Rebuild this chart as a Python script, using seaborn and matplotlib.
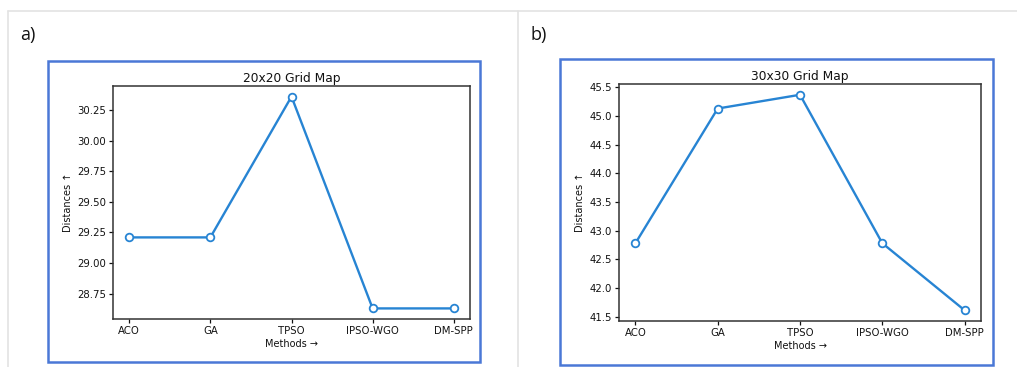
import pandas as pd
import matplotlib.pyplot as plt
import seaborn as sns
from matplotlib.patches import Rectangle
from matplotlib.lines import Line2D

methods = ['ACO', 'GA', 'TPSO', 'IPSO-WGO', 'DM-SPP']
dist_20 = [29.21, 29.21, 30.36, 28.63, 28.63]
dist_30 = [42.78, 45.13, 45.37, 42.78, 41.61]
titles = ['20x20 Grid Map', '30x30 Grid Map']
panel_tags = ['a)', 'b)']

sns.set_style("ticks")
plt.rcParams['font.family'] = ['DejaVu Sans']
plt.rcParams['text.color'] = '#111111'
plt.rcParams['axes.labelcolor'] = '#111111'

fig = plt.figure(figsize=(10.17, 3.67), dpi=100)

# page frame lines (light gray)
fig.add_artist(Line2D([8 / 1017, 1], [1 - 10.5 / 367] * 2, color='#e3e3e3', lw=1.2))
fig.add_artist(Line2D([8 / 1017] * 2, [0, 1 - 10.5 / 367], color='#e3e3e3', lw=1.2))
fig.add_artist(Line2D([518 / 1017] * 2, [0, 1 - 10.5 / 367], color='#e3e3e3', lw=1.2))

# blue boxes around each plot
boxes = [(48, 61, 480, 362), (560, 59, 993, 365)]
for x0, y0, x1, y1 in boxes:
    fig.add_artist(Rectangle((x0 / 1017, 1 - y1 / 367), (x1 - x0) / 1017, (y1 - y0) / 367,
                             fill=False, edgecolor='#4a78d6', lw=1.8))

axes_pos = [
    [113 / 1017, 1 - 319 / 367, 357 / 1017, 233 / 367],
    [619 / 1017, 1 - 321 / 367, 362 / 1017, 237 / 367],
]
tag_pos = [(20 / 1017, 1 - 35 / 367), (531 / 1017, 1 - 35 / 367)]

for i, vals in enumerate([dist_20, dist_30]):
    df = pd.DataFrame({'Method': methods, 'Distance': vals})
    ax = fig.add_axes(axes_pos[i])
    sns.lineplot(data=df, x='Method', y='Distance', ax=ax, sort=False,
                 color='#2784d3', lw=1.7, marker='o', markersize=5.5,
                 markerfacecolor='white', markeredgecolor='#2784d3', markeredgewidth=1.3)
    for s in ax.spines.values():
        s.set_color('#333333')
        s.set_linewidth(1.1)
    ax.tick_params(labelsize=7.3, length=3, width=0.9, colors='#111111', pad=2)
    ax.set_title(titles[i], fontsize=8.8, pad=3)
    ax.set_xlabel('Methods \u2192', fontsize=7, labelpad=2)
    ax.set_ylabel('Distances \u2191', fontsize=7, labelpad=3)
    if i == 1:
        ax.set_yticks([41.5, 42.0, 42.5, 43.0, 43.5, 44.0, 44.5, 45.0, 45.5])
        ax.set_yticklabels(['41.5', '42.0', '42.5', '43.0', '43.5', '44.0', '44.5', '45.0', '45.5'])
    fig.text(tag_pos[i][0], tag_pos[i][1], panel_tags[i], fontsize=13,
             family=['Open Sans', 'DejaVu Sans'], va='center', color='#111111')

fig.savefig('out.png', dpi=100)
